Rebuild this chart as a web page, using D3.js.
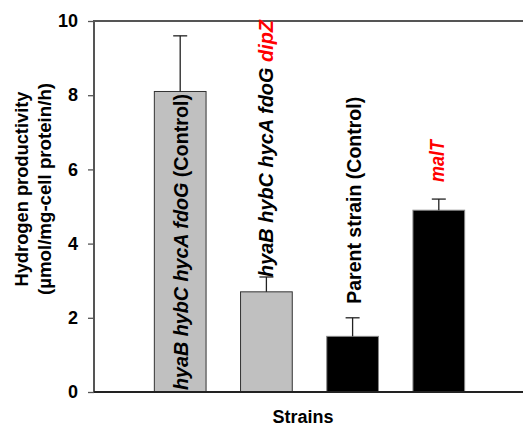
<!DOCTYPE html>
<html>
<head>
<meta charset="utf-8">
<script src="https://cdn.jsdelivr.net/npm/d3@7"></script>
<style>
  body { margin: 0; background: #fff; }
  svg { display: block; font-family: Arial, "Liberation Sans", sans-serif; }
</style>
</head>
<body>
<div class="chart"></div>
<script>
"use strict";

// Data
var strains = ["s1", "s2", "s3", "s4"];
var productivity = [8.1, 2.7, 1.5, 4.9];
var errorTop = [9.6, 3.1, 2.0, 5.2];
var barFill = ["#c0c0c0", "#c0c0c0", "#000000", "#000000"];
var yTicks = [0, 2, 4, 6, 8, 10];

// label pieces per bar: [text, italic, red]
var barLabels = [
    [["hyaB hybC hycA fdoG", true, false], [" (Control)", false, false]],
    [["hyaB hybC hycA fdoG ", true, false], ["dipZ", true, true]],
    [["Parent strain (Control)", false, false]],
    [["malT", true, true]]
];

var width = 523, height = 428;
var margin = { top: 21, left: 94, bottom: 36, right: 0 };
var plotW = width - margin.left + 2;
var plotH = height - margin.top - margin.bottom;

var svg = d3.select(".chart").append("svg")
    .attr("width", width)
    .attr("height", height);

var g = svg.append("g")
    .attr("transform", "translate(" + margin.left + "," + margin.top + ")");

var x = d3.scaleBand()
    .domain(strains)
    .range([0, plotW])
    .paddingInner(0.4)
    .paddingOuter(0.7);

var y = d3.scaleLinear()
    .domain([0, 10])
    .range([plotH, 0]);

// top frame line
g.append("line")
    .attr("x1", 0).attr("x2", plotW)
    .attr("y1", 0).attr("y2", 0)
    .attr("stroke", "#555").attr("stroke-width", 2);

// bars
g.selectAll(".bar")
    .data(strains)
    .enter()
    .append("rect")
    .attr("class", "bar")
    .attr("x", function(d) { return x(d); })
    .attr("y", function(d, i) { return y(productivity[i]); })
    .attr("width", x.bandwidth())
    .attr("height", function(d, i) { return plotH - y(productivity[i]); })
    .attr("fill", function(d, i) { return barFill[i]; })
    .attr("stroke", function(d, i) { return i < 2 ? "#333" : "#888"; })
    .attr("stroke-width", 1);

// error bars (upper only)
var err = g.selectAll(".err")
    .data(strains)
    .enter()
    .append("g")
    .attr("class", "err");

err.append("line")
    .attr("x1", function(d) { return x(d) + x.bandwidth() / 2; })
    .attr("x2", function(d) { return x(d) + x.bandwidth() / 2; })
    .attr("y1", function(d, i) { return y(productivity[i]); })
    .attr("y2", function(d, i) { return y(errorTop[i]); })
    .attr("stroke", "#222").attr("stroke-width", 1.3);

err.append("line")
    .attr("x1", function(d) { return x(d) + x.bandwidth() / 2 - 7; })
    .attr("x2", function(d) { return x(d) + x.bandwidth() / 2 + 7; })
    .attr("y1", function(d, i) { return y(errorTop[i]); })
    .attr("y2", function(d, i) { return y(errorTop[i]); })
    .attr("stroke", "#222").attr("stroke-width", 1.3);

// rotated labels (lengths fitted to the picture)
var labelStart = [plotH - 2, y(errorTop[1]), y(errorTop[2]) - 14, y(errorTop[3]) - 17];
var labelLen = [296, 257, 207, 42];
var labelX = [1, 0, 2, -1];

strains.forEach(function(d, i) {
    var cx = x(d) + x.bandwidth() / 2 + labelX[i];
    var t = g.append("text")
        .attr("transform", "translate(" + (cx + 6.5) + "," + labelStart[i] + ") rotate(-90)")
        .attr("font-size", "19.5px")
        .attr("font-weight", "bold")
        .attr("textLength", labelLen[i])
        .attr("lengthAdjust", "spacingAndGlyphs")
        .attr("fill", "#000");
    barLabels[i].forEach(function(p) {
        t.append("tspan")
            .text(p[0])
            .attr("font-style", p[1] ? "italic" : "normal")
            .attr("fill", p[2] ? "#ff0000" : "#000");
    });
});

// axes
var yAxis = d3.axisLeft(y).tickValues(yTicks).tickSize(6).tickPadding(10);
var ya = g.append("g").attr("class", "yAxis").call(yAxis);
ya.select(".domain").attr("stroke", "#555").attr("stroke-width", 2)
    .attr("d", "M0," + (plotH + 1) + "V-1");
ya.selectAll(".tick line").attr("stroke", "#555").attr("stroke-width", 1.3);
ya.selectAll(".tick text")
    .attr("font-size", "18px")
    .attr("font-weight", "bold")
    .attr("font-family", "Arial, 'Liberation Sans', sans-serif")
    .attr("fill", "#000");

g.append("line")
    .attr("x1", 0).attr("x2", plotW)
    .attr("y1", plotH).attr("y2", plotH)
    .attr("stroke", "#222").attr("stroke-width", 2);

// axis titles
var yTitle = svg.append("text")
    .attr("transform", "translate(28,189) rotate(-90)")
    .attr("text-anchor", "middle")
    .attr("font-size", "17.5px")
    .attr("font-weight", "bold");
yTitle.append("tspan").attr("x", 0).attr("dy", 0)
    .attr("textLength", 195).attr("lengthAdjust", "spacingAndGlyphs")
    .text("Hydrogen productivity");
yTitle.append("tspan").attr("x", 0).attr("dy", 23)
    .attr("textLength", 212).attr("lengthAdjust", "spacingAndGlyphs")
    .text("(\u00b5mol/mg-cell protein/h)");

svg.append("text")
    .attr("x", 303)
    .attr("y", 423)
    .attr("text-anchor", "middle")
    .attr("font-size", "18px")
    .attr("font-weight", "bold")
    .text("Strains");
</script>
</body>
</html>
